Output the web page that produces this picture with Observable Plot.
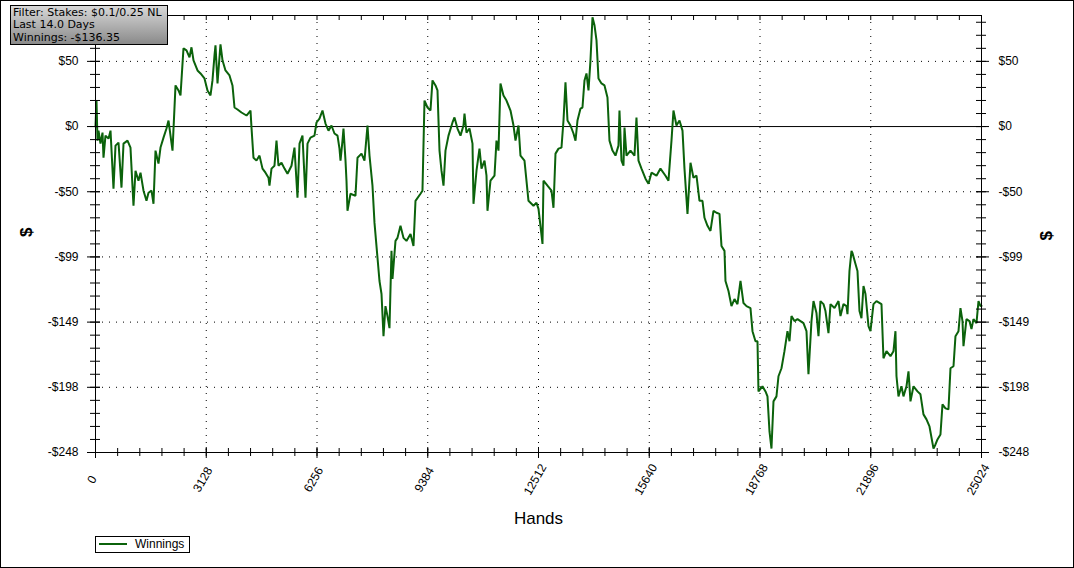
<!DOCTYPE html>
<html>
<head>
<meta charset="utf-8">
<script src="https://cdn.jsdelivr.net/npm/d3@7"></script>
<script src="https://cdn.jsdelivr.net/npm/@observablehq/plot@0.6"></script>
<style>
  html, body { margin: 0; padding: 0; background: #fff; }
  #wrap { position: relative; width: 1074px; height: 568px; overflow: hidden; background: #fff; }
  #chart { position: absolute; left: 0; top: 0; }
  #border { position: absolute; left: 0; top: 0; width: 1074px; height: 568px; box-sizing: border-box; border: 1px solid #000; pointer-events: none; }
  #info { position: absolute; left: 10px; top: 5px; width: 158px; height: 40px; box-sizing: border-box;
          border: 1px solid #000; background: linear-gradient(to bottom, #d8d8d8, #8a8a8a);
          font-family: "DejaVu Sans", Verdana, sans-serif; font-size: 11px; line-height: 12.3px; color: #000;
          padding: 1px 0 0 2px; white-space: nowrap; }
  #legend { position: absolute; left: 95px; top: 536px; width: 95px; height: 17px; box-sizing: border-box;
            border: 1px solid #000; background: #fff; }
  #legend .sw { position: absolute; left: 3px; top: 6px; width: 28px; height: 2px; background: #0b620b; }
  #legend .lb { position: absolute; left: 39px; top: 0px; font-family: "Liberation Sans", Arial, sans-serif;
                font-size: 12px; line-height: 15px; color: #000; }
</style>
</head>
<body>
<div id="wrap">
  <div id="chart"></div>
  <div id="info"><div>Filter: Stakes: $0.1/0.25 NL</div><div>Last 14.0 Days</div><div>Winnings: -$136.35</div></div>
  <div id="legend"><div class="sw"></div><div class="lb">Winnings</div></div>
  <div id="border"></div>
</div>
<script>
const hands = [0,28,56,85,141,198,226,282,367,424,508,565,650,734,791,904,988,1073,1130,1214,1271,1356,1440,1497,1582,1638,1695,1779,1836,1921,2005,2062,2175,2260,2344,2401,2485,2570,2655,2711,2768,2881,2966,3078,3163,3248,3304,3361,3389,3446,3530,3587,3671,3785,3869,3926,4011,4123,4265,4378,
4406,4462,4547,4632,4717,4801,4886,4914,4971,5055,5112,5168,5253,5338,5423,5536,5620,5705,5762,5846,5931,5988,6072,6185,6242,6326,6411,6496,6581,6665,6750,6835,6891,6920,6976,7004,7061,7089,7117,7202,7343,7400,7513,7597,7682,7739,7823,7880,7965,8021,8078,8134,8190,8247,8303,8360,8388,8473,8529,8614,8699,8783,8897,8981,9038,9179,9235,
9292,9377,9461,9518,9603,9659,9716,9772,9829,9885,9970,10083,10139,10224,10309,10393,10422,10478,10563,10648,10676,10761,10845,10902,10987,11043,11071,11156,11269,11325,11382,11438,11523,11608,11721,11806,11862,11947,12003,12116,12229,12370,12455,12512,12625,12653,12766,12879,
12935,12992,13077,13161,13218,13274,13331,13415,13500,13557,13613,13698,13754,13811,13867,13924,13980,14037,14093,14150,14206,14291,14376,14460,14517,14602,14686,14771,14799,14856,14912,14941,14997,15110,15223,15279,15336,15421,15534,15618,15703,15844,15957,16099,16183,16268,16324,16409,16494,16579,16635,16720,16805,16889,16974,
17059,17143,17200,17285,17369,17454,17539,17624,17680,17765,17793,17878,17962,18047,18132,18217,18301,18386,18499,18556,18640,18697,18725,18838,18923,18979,19036,19092,19149,19233,19290,19375,19459,19544,19601,19657,19742,19827,19911,19996,20081,20137,20222,20279,20363,20420,20476,20561,20617,20702,20759,20872,20985,21041,21126,21210,21239,
21295,21352,21380,21465,21521,21578,21634,21691,21747,21832,21888,21973,22058,22199,22255,22340,22453,22538,22594,22623,22679,22764,22820,22905,22962,23018,23103,23216,23300,23385,23470,23555,23668,23724,23781,23865,23922,24007,24091,24148,24233,24289,24374,24430,24487,24515,24600,24684,24741,24797,24882,24939,24995,25024];

const winnings = [0,19.8,-10.7,-3.1,-13.0,-4.6,-23.7,-6.9,-9.2,-3.1,-47.3,-14.5,-12.2,-46.5,-13.0,-10.7,-16.0,-60.3,-33.6,-41.2,-35.1,-48.8,-56.5,-50.4,-48.8,-58.8,-18.3,-28.2,-16.0,-8.4,-1.5,4.6,-18.3,31.3,27.5,23.7,59.5,58.0,52.7,60.3,50.4,42.7,40.4,36.6,27.5,23.7,35.1,54.2,61.8,32.8,62.6,50.4,42.7,38.9,31.3,14.5,13.0,10.7,8.4,12.2,
-0.8,-23.7,-25.9,-22.1,-32.0,-35.1,-38.9,-45.0,-32.0,-29.8,-10.7,-29.8,-27.5,-32.0,-35.9,-29.8,-16.0,-54.2,-13.0,-6.9,-54.2,-13.0,-8.4,-6.9,3.1,6.1,12.2,2.3,-3.1,0.8,-5.3,-6.9,-16.8,-25.9,-10.7,-1.5,-25.9,-41.2,-64.1,-51.1,-52.7,-23.7,-20.6,-25.9,0.8,-22.1,-45.0,-73.3,-100.0,-117.5,-127.4,-159.5,-136.6,-144.2,-153.4,-94.6,-116.0,-87.0,-84.7,-75.5,-84.7,-87.0,-81.7,-90.8,-56.5,-51.1,-48.8,
19.8,14.5,12.2,35.1,31.3,27.5,-18.3,-33.6,-45.0,-18.3,-6.9,3.1,6.9,-1.5,-6.9,0.8,9.9,-4.6,-1.5,-13.0,-58.8,-33.6,-16.8,-32.0,-25.9,-37.4,-64.1,-41.2,-37.4,-10.7,-18.3,32.8,23.7,19.8,12.2,0.8,-10.7,0.8,-22.1,-25.9,-56.5,-60.3,-58.0,-62.6,-89.3,-41.2,-45.0,-48.8,
-61.8,-20.6,-16.8,-16.0,4.6,33.6,4.6,0.8,-5.3,-10.7,4.6,13.7,14.5,35.1,40.4,27.5,50.4,83.2,77.1,65.6,36.6,32.8,31.3,22.1,-10.7,-18.3,-22.1,-14.5,12.2,-25.9,-29.8,-0.8,-22.1,-18.3,-22.1,6.9,-25.9,-32.0,-39.7,-43.5,-35.1,-37.4,-32.0,-37.4,-41.2,-10.7,12.2,0.8,4.6,-3.1,-32.0,-66.4,-27.5,-38.9,-37.4,
-56.5,-56.5,-69.4,-75.5,-79.4,-64.1,-65.6,-66.4,-90.8,-94.6,-117.5,-125.1,-136.6,-131.3,-135.1,-117.5,-134.3,-136.6,-138.1,-155.7,-163.3,-163.3,-201.5,-197.6,-201.5,-205.3,-232.0,-245.0,-209.1,-205.3,-190.0,-183.9,-170.9,-155.7,-163.3,-144.2,-148.0,-146.5,-148.0,-149.6,-155.7,-188.5,-148.0,-132.8,-141.9,-159.5,-132.8,-135.1,-140.4,-157.2,-135.1,-138.1,-132.8,-144.2,-135.1,-136.6,-142.7,
-109.9,-94.6,-96.2,-104.5,-109.9,-140.4,-145.8,-121.3,-127.4,-151.9,-155.7,-135.1,-132.8,-135.1,-176.3,-170.9,-174.7,-170.9,-155.7,-190.0,-205.3,-197.6,-205.3,-197.6,-186.2,-209.1,-197.6,-201.5,-203.7,-219.0,-222.8,-228.2,-245.0,-241.9,-238.1,-234.3,-211.4,-214.4,-215.2,-183.9,-182.4,-159.5,-155.7,-138.1,-148.0,-167.1,-146.5,-148.0,-154.1,-146.5,-149.6,-132.8,-136.6,-136.35];

const xTickValues = [0, 3128, 6256, 9384, 12512, 15640, 18768, 21896, 25024];
const xTickLabels = ["0", "3128", "6256", "9384", "12512", "15640", "18768", "21896", "25024"];
const yTickValues = [49.6, 0, -49.6, -99.2, -148.8, -198.4, -248];
const yTickLabels = ["$50", "$0", "-$50", "-$99", "-$149", "-$198", "-$248"];

const data = hands.map((h, i) => ({hands: h, win: winnings[i]}));
const yLabel = new Map(yTickValues.map((v, i) => [v, yTickLabels[i]]));
const xLabel = new Map(xTickValues.map((v, i) => [v, xTickLabels[i]]));

const W = 1074, H = 568, mL = 95, mR = 93, mT = 15, mB = 116;
const pw = W - mL - mR, ph = H - mT - mB;
const xMinor = d3.range(0, 41).map(k => k * 625.6);
const yMinor = d3.range(0, 34).map(k => -248 + k * 9.92);
const green = "#0b620b";
const font = "Liberation Sans, Arial, sans-serif";

const chart = Plot.plot({
  width: W, height: H,
  marginLeft: mL, marginRight: mR, marginTop: mT, marginBottom: mB,
  style: {fontFamily: font, fontSize: "12px", background: "transparent", color: "#000", overflow: "visible"},
  x: {domain: [0, 25024], axis: null},
  y: {domain: [-248, 84.5], axis: null},
  marks: [
    Plot.ruleX(xTickValues.slice(1, -1), {x: d => d, stroke: "#000", strokeDasharray: "1,6"}),
    Plot.ruleY(yTickValues.filter(v => v !== 0 && v !== -248), {y: d => d, stroke: "#000", strokeDasharray: "1,6"}),
    Plot.ruleY([0], {y: d => d, stroke: "#000", strokeWidth: 1}),
    Plot.line(data, {x: "hands", y: "win", stroke: green, strokeWidth: 2, strokeLinejoin: "miter"}),
    Plot.frame({stroke: "#000"}),
    // left axis ticks
    Plot.tickY(yMinor, {y: d => d, stroke: "#000", insetLeft: -5, insetRight: pw - 5}),
    Plot.tickY(yTickValues, {y: d => d, stroke: "#000", insetLeft: -8, insetRight: pw - 5}),
    // right axis ticks
    Plot.tickY(yMinor, {y: d => d, stroke: "#000", insetLeft: pw - 5, insetRight: -5}),
    Plot.tickY(yTickValues, {y: d => d, stroke: "#000", insetLeft: pw - 5, insetRight: -8}),
    // bottom axis ticks
    Plot.tickX(xMinor, {x: d => d, stroke: "#000", insetTop: ph - 4, insetBottom: -4}),
    Plot.tickX(xTickValues, {x: d => d, stroke: "#000", insetTop: ph - 5, insetBottom: -6}),
    // top axis ticks
    Plot.tickX(xMinor, {x: d => d, stroke: "#000", insetTop: 0, insetBottom: ph - 5}),
    // y labels
    Plot.text(yTickValues, {y: d => d, text: d => yLabel.get(d), frameAnchor: "left", dx: -17, textAnchor: "end", fontSize: 12, fill: "#000"}),
    Plot.text(yTickValues, {y: d => d, text: d => yLabel.get(d), frameAnchor: "right", dx: 17, textAnchor: "start", fontSize: 12, fill: "#000"}),
    // x labels
    Plot.text(xTickValues, {x: d => d, text: d => xLabel.get(d), frameAnchor: "bottom", dy: 29, rotate: -60, textAnchor: "middle", fontSize: 12, fill: "#000"}),
    // axis titles
    Plot.text(["Hands"], {frameAnchor: "bottom", dy: 71, fontSize: 17, fill: "#000"}),
    Plot.text(["$"], {frameAnchor: "left", dx: -69, dy: 3, rotate: -90, fontSize: 17, fontWeight: "bold", fill: "#000"}),
    Plot.text(["$"], {frameAnchor: "right", dx: 65, dy: -3, rotate: -90, fontSize: 17, fontWeight: "bold", fill: "#000"})
  ]
});
document.getElementById("chart").appendChild(chart);
</script>
</body>
</html>
